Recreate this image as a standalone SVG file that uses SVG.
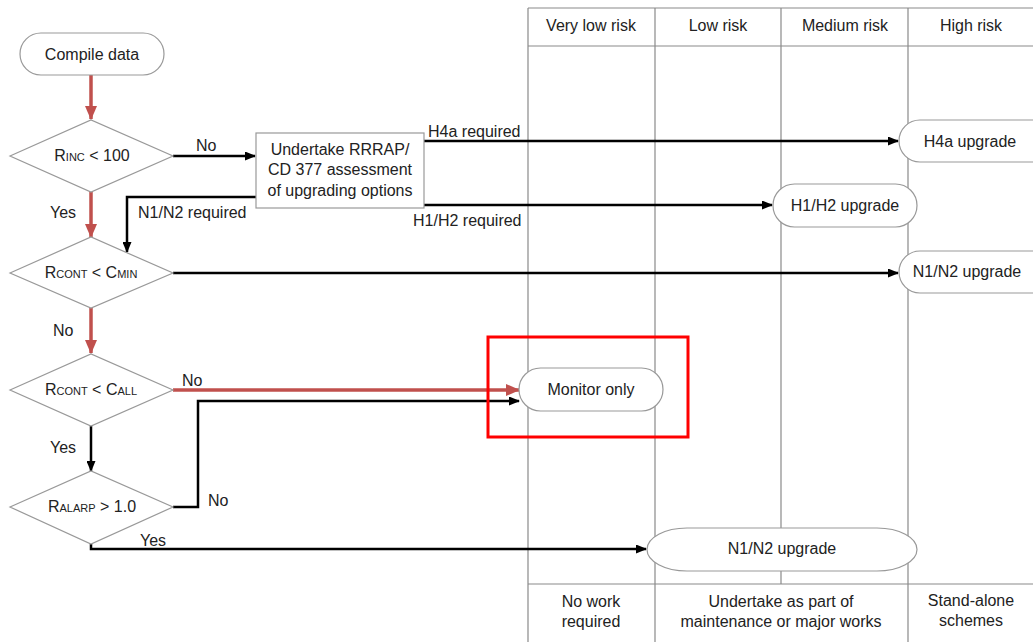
<svg xmlns="http://www.w3.org/2000/svg" width="1033" height="642" viewBox="0 0 1033 642">
<style>
text{font-family:"Liberation Sans",Arial,sans-serif;font-size:16px;fill:#222}
.c{text-anchor:middle}
.sub{font-size:11px}
.grid{stroke:#8a8a8a;stroke-width:1.2;fill:none}
.shape{fill:#fff;stroke:#999;stroke-width:1.2}
.blk{stroke:#000;stroke-width:2.5;fill:none}
.red{stroke:#c0504d;stroke-width:3.5;fill:none}
</style>
<defs>
<marker id="ab" markerUnits="userSpaceOnUse" markerWidth="11" markerHeight="9" refX="10" refY="4.5" orient="auto"><path d="M0,0 L11,4.5 L0,9 z" fill="#000"/></marker>
<marker id="ar" markerUnits="userSpaceOnUse" markerWidth="14" markerHeight="12" refX="13" refY="6" orient="auto"><path d="M0,0 L14,6 L0,12 z" fill="#c0504d"/></marker>
</defs>
<rect width="1033" height="642" fill="#fff"/>
<g id="table">
<path class="grid" d="M528,8 H1033 M528,46 H1033 M528,584 H1033 M528,8 V642 M655,8 V642 M781,8 V584 M908,8 V642"/>
<text class="c" x="591" y="31">Very low risk</text>
<text class="c" x="718" y="31">Low risk</text>
<text class="c" x="845" y="31">Medium risk</text>
<text class="c" x="971" y="31">High risk</text>
<text class="c" x="591" y="607">No work</text>
<text class="c" x="591" y="627">required</text>
<text class="c" x="781" y="607">Undertake as part of</text>
<text class="c" x="781" y="627">maintenance or major works</text>
<text class="c" x="971" y="606">Stand-alone</text>
<text class="c" x="971" y="626">schemes</text>
</g>
<g id="connectors">
<path class="red" d="M91,75 V119" marker-end="url(#ar)"/>
<path class="red" d="M91,192 V237" marker-end="url(#ar)"/>
<path class="red" d="M91,308 V353" marker-end="url(#ar)"/>
<path class="red" d="M173,390 H519" marker-end="url(#ar)"/>
<path class="blk" d="M173,156 H255" marker-end="url(#ab)"/>
<path class="blk" d="M424,141 H898" marker-end="url(#ab)"/>
<path class="blk" d="M424,205 H772" marker-end="url(#ab)"/>
<path class="blk" d="M256,197 H127 V252" marker-end="url(#ab)"/>
<path class="blk" d="M173,273 H898" marker-end="url(#ab)"/>
<path class="blk" d="M91,426 V471" marker-end="url(#ab)"/>
<path class="blk" d="M173,507 H198 V401 H519" marker-end="url(#ab)"/>
<path class="blk" d="M91,544 V549 H646" marker-end="url(#ab)"/>
<text x="196" y="151">No</text>
<text x="428" y="137">H4a required</text>
<text x="413" y="226">H1/H2 required</text>
<text x="138" y="218">N1/N2 required</text>
<text x="50" y="218">Yes</text>
<text x="53" y="336">No</text>
<text x="182" y="386">No</text>
<text x="50" y="453">Yes</text>
<text x="208" y="506">No</text>
<text x="140" y="546">Yes</text>
</g>
<g id="compile">
<rect class="shape" x="20" y="33" width="144" height="42" rx="21"/>
<text class="c" x="92" y="60">Compile data</text>
</g>
<g id="d1">
<path class="shape" d="M10,156 L91,120 L173,156 L91,192 z"/>
<text class="c" x="92" y="161">R<tspan class="sub">INC</tspan> &lt; 100</text>
</g>
<g id="assess">
<rect class="shape" x="256" y="133" width="168" height="75"/>
<text class="c" x="340" y="155">Undertake RRRAP/</text>
<text class="c" x="340" y="175">CD 377 assessment</text>
<text class="c" x="340" y="196">of upgrading options</text>
</g>
<g id="d2">
<path class="shape" d="M10,273 L91,237 L173,273 L91,308 z"/>
<text class="c" x="91" y="278">R<tspan class="sub">CONT</tspan> &lt; C<tspan class="sub">MIN</tspan></text>
</g>
<g id="d3">
<path class="shape" d="M10,390 L91,354 L173,390 L91,426 z"/>
<text class="c" x="91" y="395">R<tspan class="sub">CONT</tspan> &lt; C<tspan class="sub">ALL</tspan></text>
</g>
<g id="d4">
<path class="shape" d="M10,507 L91,471 L173,507 L91,544 z"/>
<text class="c" x="92" y="512">R<tspan class="sub">ALARP</tspan> &gt; 1.0</text>
</g>
<g id="h4a">
<rect class="shape" x="899" y="120" width="160" height="42" rx="21"/>
<text class="c" x="970" y="147">H4a upgrade</text>
</g>
<g id="h1h2">
<rect class="shape" x="773" y="184" width="144" height="43" rx="21.5"/>
<text class="c" x="845" y="211">H1/H2 upgrade</text>
</g>
<g id="n1n2top">
<rect class="shape" x="899" y="251" width="160" height="42" rx="21"/>
<text class="c" x="967" y="277">N1/N2 upgrade</text>
</g>
<g id="monitor">
<rect class="shape" x="519" y="368" width="144" height="43" rx="21.5"/>
<text class="c" x="591" y="395">Monitor only</text>
</g>
<g id="n1n2bottom">
<rect class="shape" x="647" y="528" width="270" height="43" rx="40" ry="21.5"/>
<text class="c" x="782" y="554">N1/N2 upgrade</text>
</g>
<g id="highlight">
<rect x="488" y="337" width="200" height="100" fill="none" stroke="#f00" stroke-width="3"/>
</g>
</svg>
